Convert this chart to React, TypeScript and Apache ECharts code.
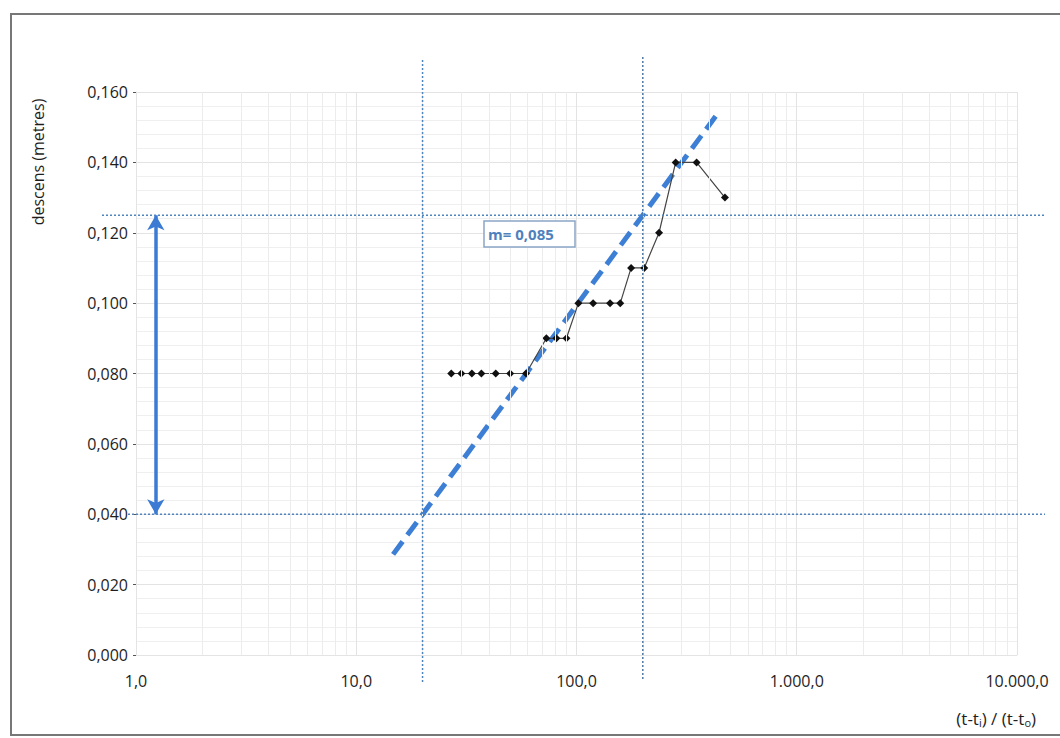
import React, { useEffect, useRef } from "react";
import * as echarts from "echarts";

// ---- data ----
const xTickValues = [1, 10, 100, 1000, 10000];
const ratioValues = [27, 30, 33.5, 37, 43, 50, 59, 73, 81, 90, 102, 119, 142, 158, 177, 203, 237, 282, 351, 472];
const descensValues = [0.08, 0.08, 0.08, 0.08, 0.08, 0.08, 0.08, 0.09, 0.09, 0.09, 0.1, 0.1, 0.1, 0.1, 0.11, 0.11, 0.12, 0.14, 0.14, 0.13];
const fitLineX = [14.7, 433];
const fitLineY = [0.0286, 0.1535];
const refX = [20, 200];
const refY = [0.125, 0.04];
const arrowX = 1.23;
const slopeLabel = "m= 0,085";
const yTitle = "descens (metres)";

const FONT = "'Open Sans', 'Noto Sans', sans-serif";

function fmtX(v: number): string {
  const s = Number(v).toFixed(1);
  const [i, d] = s.split(".");
  return i.replace(/\B(?=(\d{3})+(?!\d))/g, ".") + "," + d;
}
function fmtY(v: number): string {
  return Number(v).toFixed(3).replace(".", ",");
}

// minor vertical grid positions (log paper)
const minorX: number[] = [];
for (let d = 0; d < xTickValues.length - 1; d++) {
  for (let k = 2; k <= 9; k++) minorX.push(k * xTickValues[d]);
}

export default function App() {
  const ref = useRef<HTMLDivElement>(null);
  useEffect(() => {
    if (!ref.current) return;
    const chart = echarts.init(ref.current, undefined, { renderer: "svg" });
    const points = ratioValues.map((x, i) => [x, descensValues[i]]);
    const option: any = {
      animation: false,
      backgroundColor: "#ffffff",
      grid: { left: 136, right: 43, top: 92, bottom: 83, containLabel: false },
      xAxis: {
        type: "log",
        logBase: 10,
        min: 1,
        max: 10000,
        axisLine: { show: true, lineStyle: { color: "#e4e4e4" } },
        axisTick: { show: false },
        axisLabel: {
          formatter: (v: number) => fmtX(v),
          color: "#1e1e1e",
          fontSize: 16,
          fontFamily: FONT,
          margin: 18,
          showMinLabel: true,
          showMaxLabel: true,
        },
        splitLine: { show: true, lineStyle: { color: "#e3e3e3", width: 1 } },
      },
      yAxis: {
        type: "value",
        min: 0,
        max: 0.16,
        interval: 0.02,
        axisLine: { show: true, lineStyle: { color: "#e4e4e4" } },
        axisTick: { show: true, length: 3, lineStyle: { color: "#555" } },
        axisLabel: {
          formatter: (v: number) => fmtY(v),
          color: "#1e1e1e",
          fontSize: 16,
          fontFamily: FONT,
          margin: 8,
        },
        splitLine: { show: true, lineStyle: { color: "#e3e3e3", width: 1 } },
        minorTick: { show: false, splitNumber: 5 },
        minorSplitLine: { show: true, lineStyle: { color: "#efefef", width: 1 } },
      },
      series: [
        {
          type: "line",
          name: "minorgrid",
          data: [],
          silent: true,
          markLine: {
            silent: true,
            symbol: ["none", "none"],
            label: { show: false },
            lineStyle: { color: "#ececec", width: 1, type: "solid" },
            data: minorX.map((v) => ({ xAxis: v })),
          },
        },
        {
          type: "line",
          name: "fit",
          data: fitLineX.map((x, i) => [x, fitLineY[i]]),
          showSymbol: false,
          symbol: "none",
          lineStyle: { color: "#3e7fd6", width: 5, type: [16, 8] },
          z: 3,
        },
        {
          type: "line",
          name: "descens",
          data: points,
          symbol: "diamond",
          symbolSize: 8,
          itemStyle: { color: "#111" },
          lineStyle: { color: "#444", width: 1.2 },
          z: 4,
        },
        {
          type: "line",
          name: "arrow",
          data: [],
          silent: true,
          markLine: {
            silent: true,
            symbol: ["arrow", "arrow"],
            symbolSize: [13, 15],
            label: { show: false },
            lineStyle: { color: "#3b7bd4", width: 3.5, type: "solid" },
            data: [[{ coord: [arrowX, refY[1]] }, { coord: [arrowX, refY[0]] }]],
          },
        },
      ],
    };
    chart.setOption(option);

    const px = (v: number) => chart.convertToPixel({ xAxisIndex: 0 }, v) as number;
    const py = (v: number) => chart.convertToPixel({ yAxisIndex: 0 }, v) as number;
    const dotted = { stroke: "#4f86c0", lineWidth: 1.5, lineDash: [2, 2] };

    chart.setOption({
      graphic: [
        {
          type: "rect",
          shape: { x: 11, y: 14, width: 1100, height: 721 },
          style: { fill: "none", stroke: "#777", lineWidth: 2 },
          silent: true,
        },
        {
          type: "line",
          shape: { x1: px(refX[0]), y1: 60, x2: px(refX[0]), y2: 683 },
          style: dotted,
          z: 5,
          silent: true,
        },
        {
          type: "line",
          shape: { x1: px(refX[1]), y1: 57, x2: px(refX[1]), y2: 680 },
          style: { ...dotted, stroke: "#4d7aa8" },
          z: 5,
          silent: true,
        },
        {
          type: "line",
          shape: { x1: 102, y1: py(refY[0]), x2: 1045, y2: py(refY[0]) },
          style: dotted,
          z: 5,
          silent: true,
        },
        {
          type: "line",
          shape: { x1: 128, y1: py(refY[1]), x2: 1045, y2: py(refY[1]) },
          style: dotted,
          z: 5,
          silent: true,
        },
        {
          type: "rect",
          shape: { x: 484, y: 221, width: 91, height: 26 },
          style: { fill: "#ffffff", stroke: "#8aa6c6", lineWidth: 1.5 },
          z: 6,
          silent: true,
        },
        {
          type: "text",
          x: 488,
          y: 234,
          style: {
            text: slopeLabel,
            fill: "#4f81bd",
            font: `bold 15px ${FONT}`,
            textAlign: "left",
            textVerticalAlign: "middle",
          },
          z: 7,
          silent: true,
        },
        {
          type: "text",
          x: 38,
          y: 162,
          rotation: Math.PI / 2,
          style: {
            text: yTitle,
            fill: "#1e1e1e",
            font: `16px ${FONT}`,
            textAlign: "center",
            textVerticalAlign: "middle",
          },
          silent: true,
        },
        {
          type: "text",
          x: 1036,
          y: 718,
          style: {
            text: "{a|(t-t}{s|i}{a|) / (t-t}{s|o}{a|)}",
            textAlign: "right",
            textVerticalAlign: "middle",
            rich: {
              a: { fontSize: 17, fontFamily: FONT, fill: "#1e1e1e", color: "#1e1e1e" },
              s: { fontSize: 11, fontFamily: FONT, fill: "#1e1e1e", color: "#1e1e1e", padding: [9, 0, 0, 0] },
            },
          },
          silent: true,
        },
      ],
    });

    return () => chart.dispose();
  }, []);
  return (
    <div
      ref={ref}
      style={{ position: "fixed", left: 0, top: 0, width: 1060, height: 738 }}
    />
  );
}
